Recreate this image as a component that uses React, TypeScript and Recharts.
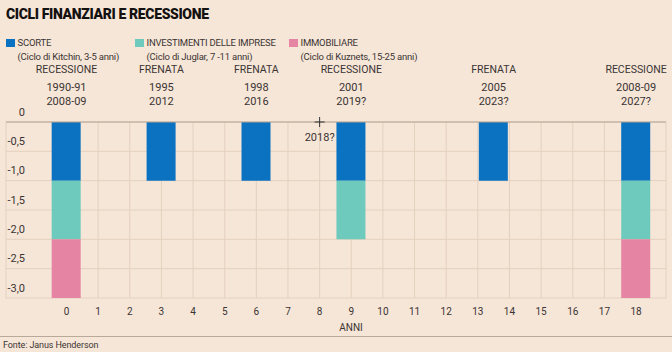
import { ComposedChart, Bar, Scatter, XAxis, YAxis, CartesianGrid, ReferenceLine } from 'recharts';

// Anni dall'inizio del ciclo (il 2005 cade a metà fra 13 e 14)
const YEARS = [0, 3, 6, 9, 13.5, 18];
const SCORTE = [-1, -1, -1, -1, -1, -1];
const INVESTIMENTI = [-1, 0, 0, -1, 0, -1];
const IMMOBILIARE = [-1, 0, 0, 0, 0, -1];

const EVENT_KIND = ['RECESSIONE', 'FRENATA', 'FRENATA', 'RECESSIONE', 'FRENATA', 'RECESSIONE'];
const EVENT_PAST = ['1990-91', '1995', '1998', '2001', '2005', '2008-09'];
const EVENT_NEXT = ['2008-09', '2012', '2016', '2019?', '2023?', '2027?'];

const MARKER_X = [8];
const MARKER_LABEL = ['2018?'];

const X_TICKS = [0, 1, 2, 3, 4, 5, 6, 7, 8, 9, 10, 11, 12, 13, 14, 15, 16, 17, 18];
const Y_TICKS = [0, -0.5, -1, -1.5, -2, -2.5, -3];

const COLORS = { scorte: '#0b72c1', investimenti: '#6dcabd', immobiliare: '#e584a3' };
const BG = '#f6e6d7';
const TEXT = '#3b3434';
const FONT = 'Roboto, "Noto Sans", sans-serif';

const barData = YEARS.map((x, i) => ({
  x,
  scorte: SCORTE[i],
  investimenti: INVESTIMENTI[i] || null,
  immobiliare: IMMOBILIARE[i] || null,
}));

const eventData = YEARS.map((x, i) => ({
  x,
  y: 0,
  kind: EVENT_KIND[i],
  past: EVENT_PAST[i],
  next: EVENT_NEXT[i],
}));

const markerData = MARKER_X.map((x, i) => ({ x, y: 0, label: MARKER_LABEL[i] }));

const fmtY = (v: number) => (v === 0 ? '0' : v.toFixed(1).replace('.', ','));

const YTick = ({ y, payload }: any) => (
  <text x={25} y={y - 10} textAnchor="end" dominantBaseline="central" fontSize={11} fill={TEXT} fontFamily={FONT}>
    {fmtY(payload.value)}
  </text>
);

const XTick = ({ x, y, payload }: any) => (
  <text x={x} y={y + 5} textAnchor="middle" dominantBaseline="central" fontSize={10} fill={TEXT} fontFamily={FONT}>
    {payload.value}
  </text>
);

const EventLabel = ({ cx, cy, payload }: any) => (
  <g fontFamily={FONT} fill={TEXT} textAnchor="middle">
    <text x={cx} y={cy - 53} dominantBaseline="central" fontSize={10.5}>{payload.kind}</text>
    <text x={cx} y={cy - 35} dominantBaseline="central" fontSize={11}>{payload.past}</text>
    <text x={cx} y={cy - 21} dominantBaseline="central" fontSize={11}>{payload.next}</text>
  </g>
);

const PlusMarker = ({ cx, cy, payload }: any) => (
  <g>
    <line x1={cx - 5} x2={cx + 5} y1={cy} y2={cy} stroke="#333" strokeWidth={1} />
    <line x1={cx} x2={cx} y1={cy - 5} y2={cy + 5} stroke="#333" strokeWidth={1} />
    <text x={cx} y={cy + 15} textAnchor="middle" dominantBaseline="central" fontSize={11} fill={TEXT} fontFamily={FONT}>
      {payload.label}
    </text>
  </g>
);

const LEGEND = [
  { color: COLORS.scorte, name: 'SCORTE', note: '(Ciclo di Kitchin, 3-5 anni)', left: 6 },
  { color: COLORS.investimenti, name: 'INVESTIMENTI DELLE IMPRESE', note: '(Ciclo di Juglar, 7 -11 anni)', left: 135 },
  { color: COLORS.immobiliare, name: 'IMMOBILIARE', note: '(Ciclo di Kuznets, 15-25 anni)', left: 289 },
];

export default function App() {
  return (
    <div style={{ position: 'absolute', left: 0, top: 0, width: 672, height: 352, background: BG, fontFamily: FONT, color: TEXT, overflow: 'hidden' }}>
      <div style={{ position: 'absolute', left: 6, top: 5, fontSize: 14, fontWeight: 900, letterSpacing: -0.35, color: '#141111', lineHeight: '18px' }}>
        CICLI FINANZIARI E RECESSIONE
      </div>

      {LEGEND.map((l) => (
        <div key={l.name} style={{ position: 'absolute', left: l.left, top: 36 }}>
          <div style={{ position: 'absolute', left: 0, top: 2.5, width: 8.5, height: 8.5, background: l.color }} />
          <div style={{ position: 'absolute', left: 11.5, top: 0, fontSize: 9.5, lineHeight: '14px', whiteSpace: 'nowrap', letterSpacing: -0.2 }}>
            {l.name}
            <br />
            {l.note}
          </div>
        </div>
      ))}

      <div style={{ position: 'absolute', left: 0, top: 0 }}>
        <ComposedChart width={672} height={352} data={barData} margin={{ top: 122, right: 6, bottom: 0, left: 5 }}>
          <CartesianGrid stroke="#e4d0bf" strokeWidth={1} />
          <XAxis
            dataKey="x"
            type="number"
            domain={[-1.912, 18.947]}
            ticks={X_TICKS}
            interval={0}
            height={54}
            axisLine={false}
            tickLine={false}
            tick={<XTick />}
          />
          <YAxis
            type="number"
            domain={[-3, 0]}
            ticks={Y_TICKS}
            interval={0}
            width={1}
            axisLine={false}
            tickLine={false}
            tick={<YTick />}
          />
          <ReferenceLine y={0} stroke="#b3a393" strokeWidth={1} />
          <Bar dataKey="scorte" stackId="a" fill={COLORS.scorte} barSize={29} isAnimationActive={false} />
          <Bar dataKey="investimenti" stackId="a" fill={COLORS.investimenti} barSize={29} isAnimationActive={false} />
          <Bar dataKey="immobiliare" stackId="a" fill={COLORS.immobiliare} barSize={29} isAnimationActive={false} />
          <Scatter data={eventData} dataKey="y" shape={<EventLabel />} isAnimationActive={false} />
          <Scatter data={markerData} dataKey="y" shape={<PlusMarker />} isAnimationActive={false} />
        </ComposedChart>
      </div>

      <div style={{ position: 'absolute', left: 351, top: 321, transform: 'translateX(-50%)', fontSize: 10, lineHeight: '13px' }}>ANNI</div>
      <div style={{ position: 'absolute', left: 0, top: 336, width: 672, height: 1, background: '#b9a999' }} />
      <div style={{ position: 'absolute', left: 3, top: 339, fontSize: 9, lineHeight: '12px', letterSpacing: -0.1 }}>Fonte: Janus Henderson</div>
    </div>
  );
}
